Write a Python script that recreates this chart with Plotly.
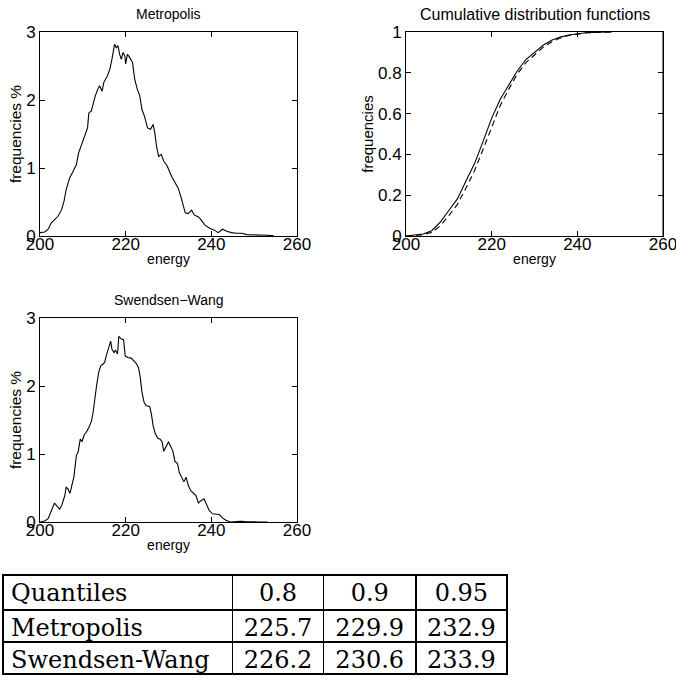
import plotly.graph_objects as go

# ---------------- data ----------------
metro_energy = [200.0, 201.1, 201.9, 202.6, 203.4, 204.2, 205.0, 205.6, 206.1, 206.9,
                207.7, 208.5, 209.0, 209.6, 210.4, 211.1, 211.4, 212.0, 212.4, 212.9,
                213.5, 213.9, 214.5, 214.9, 215.7, 216.3, 216.8, 217.4, 217.8, 218.2,
                218.6, 219.0, 219.4, 219.8, 220.0, 220.4, 220.9, 221.6, 222.1, 222.7,
                223.3, 223.8, 224.4, 225.1, 225.8, 226.4, 226.8, 227.2, 227.7, 228.3,
                228.9, 229.7, 230.7, 231.5, 232.3, 233.1, 233.9, 234.6, 235.4, 236.0,
                237.0, 237.7, 238.5, 239.7, 240.6, 241.6, 242.6, 243.6, 244.7, 245.9,
                247.1, 248.3, 249.8, 251.4, 252.9, 254.5]
metro_freq = [0.05, 0.06, 0.10, 0.19, 0.24, 0.29, 0.38, 0.51, 0.68, 0.85,
              0.95, 1.05, 1.22, 1.32, 1.47, 1.59, 1.81, 1.84, 1.94, 2.06,
              2.16, 2.21, 2.13, 2.26, 2.35, 2.45, 2.60, 2.82, 2.77, 2.80,
              2.67, 2.60, 2.70, 2.65, 2.53, 2.67, 2.63, 2.55, 2.31, 2.16,
              2.06, 1.86, 1.76, 1.59, 1.57, 1.64, 1.52, 1.32, 1.17, 1.20,
              1.10, 1.03, 0.88, 0.78, 0.70, 0.53, 0.34, 0.33, 0.38, 0.31,
              0.28, 0.23, 0.16, 0.11, 0.09, 0.05, 0.10, 0.07, 0.05, 0.04,
              0.04, 0.02, 0.02, 0.015, 0.01, 0.005]

sw_energy = [200.0, 201.1, 201.9, 202.5, 203.0, 203.4, 204.0, 204.6, 205.1, 205.8,
             206.1, 206.5, 207.0, 207.5, 207.9, 208.5, 208.9, 209.4, 209.8, 210.3,
             210.8, 211.4, 212.0, 212.4, 212.8, 213.2, 213.7, 214.2, 214.7, 215.1,
             215.5, 216.0, 216.5, 216.8, 217.3, 217.6, 218.1, 218.4, 219.0, 219.5,
             219.9, 220.5, 221.3, 221.9, 222.5, 223.0, 223.4, 223.8, 224.3, 224.8,
             225.6, 226.0, 226.4, 226.9, 227.5, 228.0, 228.5, 228.9, 229.4, 230.0,
             230.5, 231.0, 231.5, 232.1, 232.5, 233.1, 233.6, 234.1, 234.6, 235.2,
             235.8, 236.4, 237.0, 237.5, 238.3, 238.9, 239.5, 240.3, 241.1, 241.9,
             242.6, 243.4, 244.4, 245.3, 246.7, 247.9, 249.4, 251.4, 253.1]
sw_freq = [0.0, 0.015, 0.05, 0.15, 0.24, 0.28, 0.23, 0.19, 0.25, 0.39,
           0.51, 0.49, 0.42, 0.54, 0.66, 0.98, 1.03, 1.22, 1.18, 1.28,
           1.32, 1.39, 1.48, 1.61, 1.86, 2.00, 2.20, 2.30, 2.32, 2.35,
           2.45, 2.57, 2.66, 2.54, 2.49, 2.53, 2.47, 2.73, 2.69, 2.68,
           2.44, 2.42, 2.41, 2.37, 2.33, 2.27, 2.13, 1.91, 1.76, 1.71,
           1.70, 1.59, 1.42, 1.30, 1.23, 1.22, 1.18, 1.04, 1.10, 1.18,
           1.11, 1.05, 0.89, 0.86, 0.73, 0.64, 0.59, 0.66, 0.54, 0.46,
           0.42, 0.39, 0.28, 0.31, 0.34, 0.24, 0.17, 0.12, 0.12, 0.11,
           0.06, 0.025, 0.0, 0.005, 0.01, 0.005, 0.0, 0.0, 0.0]

cdf_energy = [200, 202, 204, 206, 208, 210, 212, 214, 216, 218, 220, 222, 224,
              226, 228, 230, 232, 234, 236, 238, 240, 242, 245, 248]
cdf_metro = [0.0, 0.004, 0.010, 0.026, 0.068, 0.125, 0.182, 0.270, 0.355, 0.464,
             0.578, 0.670, 0.742, 0.810, 0.865, 0.902, 0.935, 0.960, 0.975, 0.985,
             0.992, 0.996, 0.999, 1.0]
cdf_sw = [0.0, 0.002, 0.006, 0.018, 0.050, 0.100, 0.155, 0.235, 0.320, 0.425,
          0.535, 0.640, 0.720, 0.795, 0.850, 0.890, 0.925, 0.951, 0.970, 0.983,
          0.991, 0.996, 0.999, 1.0]

x_ticks = [200, 220, 240, 260]
hist_y_ticks = [0, 1, 2, 3]
cdf_y_ticks = [0, 0.2, 0.4, 0.6, 0.8, 1]

table_header = ["Quantiles", "0.8", "0.9", "0.95"]
table_rows = ["Metropolis", "Swendsen-Wang"]
q08 = ["225.7", "226.2"]
q09 = ["229.9", "230.6"]
q095 = ["232.9", "233.9"]

# ---------------- figure ----------------
W, H = 676, 685
SANS = "Liberation Sans"
SERIF = "DejaVu Serif"


def px_x(a, b):
    return [a / W, b / W]


def px_y(top, bottom):
    return [1 - bottom / H, 1 - top / H]


fig = go.Figure()

line = dict(color="black", width=1.1)
fig.add_trace(go.Scatter(x=metro_energy, y=metro_freq, mode="lines", line=line,
                         xaxis="x", yaxis="y", showlegend=False))
fig.add_trace(go.Scatter(x=cdf_energy, y=cdf_metro, mode="lines", line=line,
                         xaxis="x2", yaxis="y2", showlegend=False))
fig.add_trace(go.Scatter(x=cdf_energy, y=cdf_sw, mode="lines",
                         line=dict(color="black", width=1.1, dash="6px,4px"),
                         xaxis="x2", yaxis="y2", showlegend=False))
fig.add_trace(go.Scatter(x=sw_energy, y=sw_freq, mode="lines", line=line,
                         xaxis="x3", yaxis="y3", showlegend=False))

fig.add_trace(go.Table(
    domain=dict(x=px_x(3, 507), y=px_y(575, 684)),
    columnwidth=[229, 91, 92, 91],
    header=dict(values=table_header,
                align=["left", "center", "center", "center"],
                font=dict(family=SERIF, size=24, color="black"),
                line=dict(color="black", width=1.5),
                fill=dict(color="white"), height=35),
    cells=dict(values=[table_rows, q08, q09, q095],
               align=["left", "center", "center", "center"],
               font=dict(family=SERIF, size=24, color="black"),
               line=dict(color="black", width=1.5),
               fill=dict(color="white"), height=32),
))

tickfont = dict(family=SANS, size=17, color="black")
axis_common = dict(showline=True, linecolor="black", linewidth=1, mirror="ticks",
                   ticks="inside", ticklen=5, tickcolor="black", tickwidth=1,
                   showgrid=False, zeroline=False, tickfont=tickfont, automargin=False,
                   ticklabeloverflow="allow")
xcommon = dict(axis_common, range=[200, 260], tickvals=x_ticks, ticklabelstandoff=-7,
               title=dict(text="energy", font=dict(family=SANS, size=14, color="black"),
                          standoff=0))

fig.update_layout(
    width=W, height=H,
    margin=dict(l=0, r=0, t=0, b=0, autoexpand=False),
    paper_bgcolor="white", plot_bgcolor="white",
    xaxis=dict(xcommon, domain=px_x(40, 297), anchor="y"),
    yaxis=dict(axis_common, domain=px_y(32, 236), anchor="x", range=[0, 3],
               tickvals=hist_y_ticks,
               title=dict(text="frequencies %", font=dict(family=SANS, size=15.5, color="black"),
                          standoff=0)),
    xaxis2=dict(xcommon, domain=px_x(406, 663), anchor="y2"),
    yaxis2=dict(axis_common, domain=px_y(32, 236), anchor="x2", range=[0, 1],
                tickvals=cdf_y_ticks, ticktext=["0", "0.2", "0.4", "0.6", "0.8", "1"],
                title=dict(text="frequencies", font=dict(family=SANS, size=15, color="black"),
                           standoff=0)),
    xaxis3=dict(xcommon, domain=px_x(40, 297), anchor="y3"),
    yaxis3=dict(axis_common, domain=px_y(318, 522), anchor="x3", range=[0, 3],
                tickvals=hist_y_ticks,
                title=dict(text="frequencies %", font=dict(family=SANS, size=15.5, color="black"),
                           standoff=0)),
    shapes=[dict(type="line", xref="x2 domain", yref="y2 domain", x0=1, x1=1,
                 y0=0, y1=1, line=dict(color="black", width=1))],
    annotations=[
        dict(text="Metropolis", x=168.5 / W, y=1 - 14 / H, xref="paper", yref="paper",
             showarrow=False, font=dict(family=SANS, size=14, color="black"),
             xanchor="center", yanchor="middle"),
        dict(text="Cumulative distribution functions", x=534.5 / W, y=1 - 14 / H,
             xref="paper", yref="paper", showarrow=False,
             font=dict(family=SANS, size=16, color="black"),
             xanchor="center", yanchor="middle"),
        dict(text="Swendsen\u2212Wang", x=168.5 / W, y=1 - 300 / H, xref="paper", yref="paper",
             showarrow=False, font=dict(family=SANS, size=14, color="black"),
             xanchor="center", yanchor="middle"),
    ],
)

fig.write_html(
    "out.html",
    config={"displayModeBar": False},
    post_script=(
        "document.documentElement.style.margin='0';"
        "document.documentElement.style.overflow='hidden';"
        "document.body.style.margin='0';"
        "document.body.style.overflow='hidden';"
    ),
)
